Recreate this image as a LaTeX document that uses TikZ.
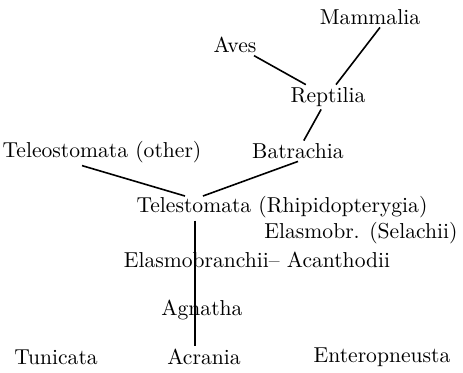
\documentclass[tikz,border=0pt]{standalone}
\usepackage{tikz}
\tikzstyle{taxon}=[inner sep=1pt,font=\fontsize{10.8}{13}\selectfont]
\tikzstyle{tree}=[line width=0.8pt]
\begin{document}
\begin{tikzpicture}[x=0.5pt,y=-0.5pt,tree]
\useasboundingbox (0,0) rectangle (463,372);
\node[taxon] (mam) at (370,17) {Mammalia};
\node[taxon] (ave) at (235,45) {Aves};
\node[taxon] (rep) at (328,97) {Reptilia};
\node[taxon] (bat) at (298,151) {Batrachia};
\node[taxon] (tob) at (102,152) {Teleostomata (other)};
\node[taxon] (tel) at (282,207) {Telestomata (Rhipidopterygia)};
\node[taxon] (sel) at (361,233) {Elasmobr. (Selachii)};
\node[taxon] (ela) at (257,260) {Elasmobranchii-- Acanthodii};
\node[taxon] (agn) at (202,310) {Agnatha};
\node[taxon] (tun) at (56,357) {Tunicata};
\node[taxon] (acr) at (204,357) {Acrania};
\node[taxon] (ent) at (382,357) {Enteropneusta};
\coordinate (fork) at (195,196);
\draw ([xshift=5pt]mam.south) -- ([xshift=4pt]rep.north);\draw (ave) -- (rep);\draw (rep) -- (bat);
\draw ([xshift=-10pt]tob.south) -- ([xshift=-5pt]fork);\draw (bat.south) -- ([xshift=4pt]fork);
\draw (tel.south -| fork) -- (fork |- acr.north);
\end{tikzpicture}
\end{document}
